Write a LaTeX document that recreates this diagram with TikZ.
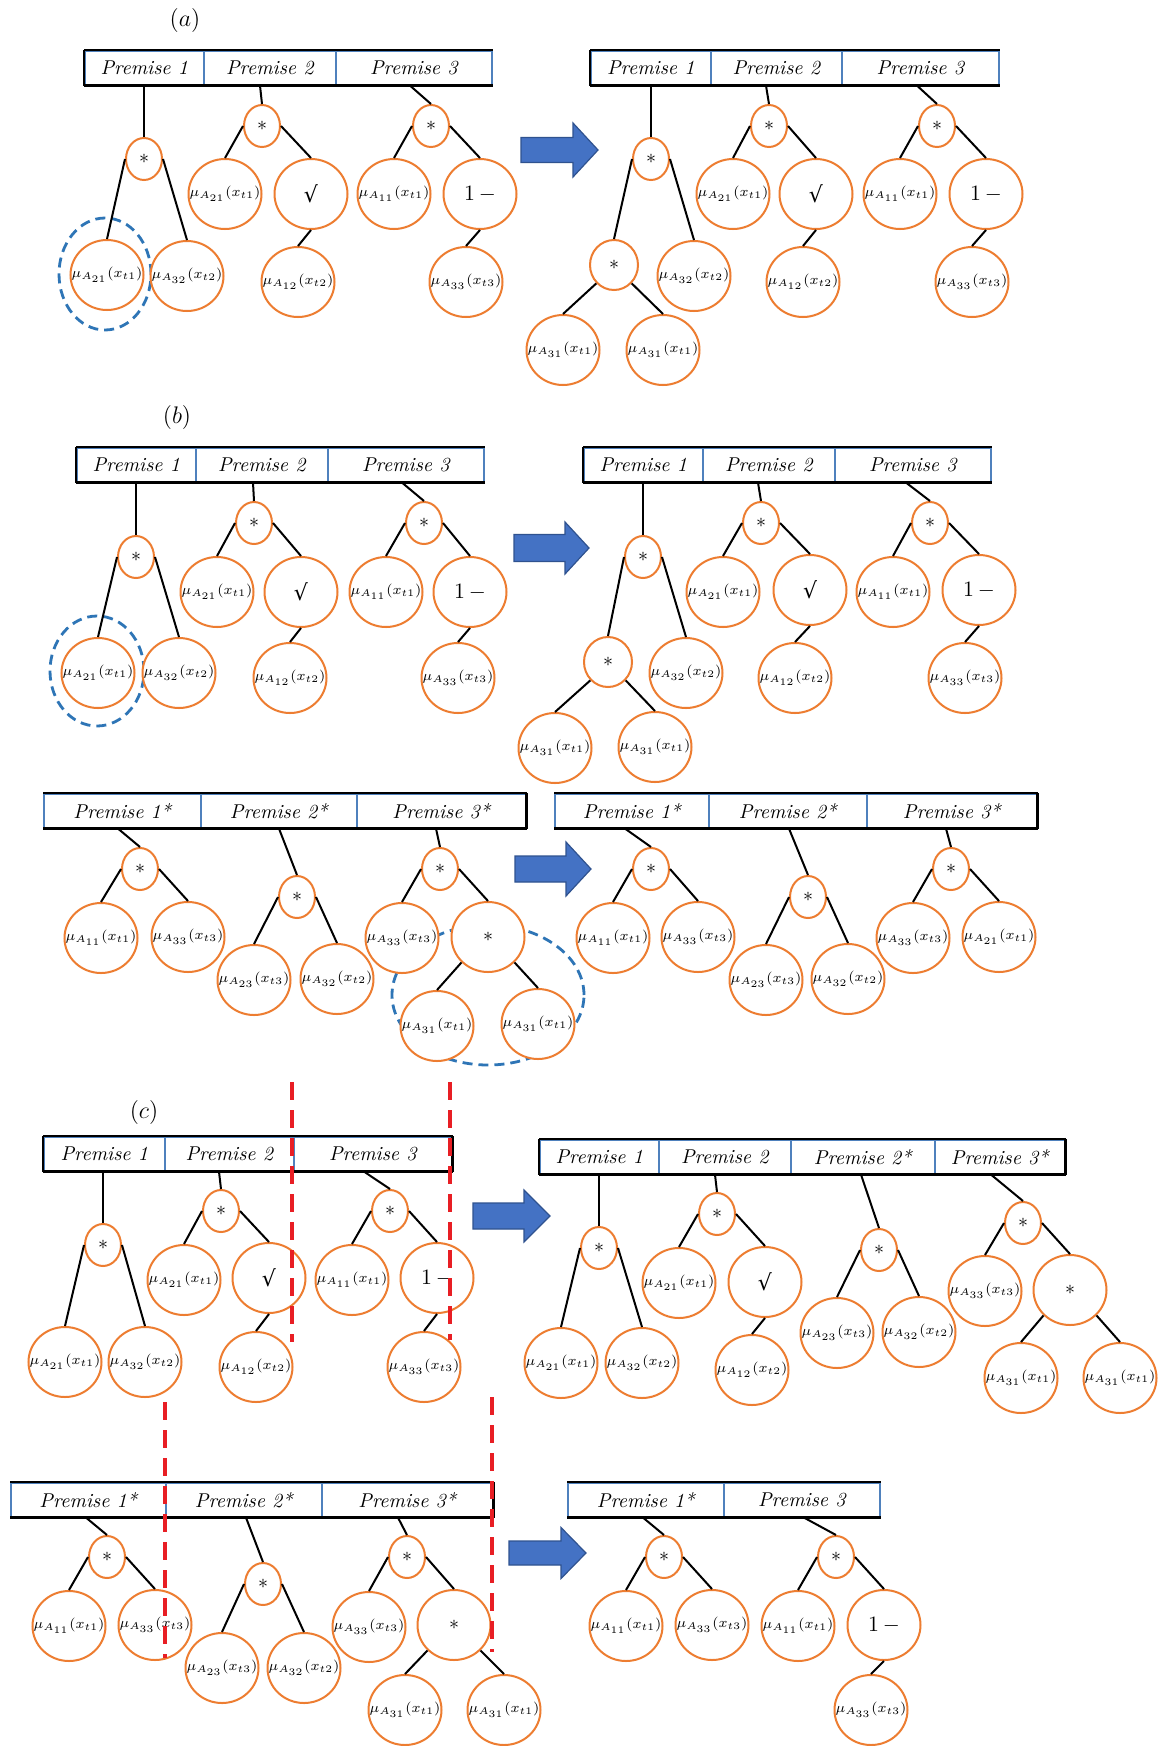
\documentclass[tikz,border=0pt]{standalone}
\usepackage{fontspec}
\newfontfamily\djv{DejaVu Serif}
\usetikzlibrary{shapes.geometric,calc}
\definecolor{orng}{RGB}{237,125,49}
\definecolor{cellblue}{RGB}{79,129,189}
\definecolor{dashblue}{RGB}{46,117,182}
\definecolor{arrowfill}{RGB}{68,114,196}
\definecolor{arrowedge}{RGB}{47,82,143}
\definecolor{redline}{RGB}{232,30,36}
\newcommand\mf[2]{\makebox[0pt]{$\mu_{A_{#1}}(x_{t#2})$}}
\newcommand\lnk[3]{\draw[conn] ($(#1.south west)+(#2,0)$) -- (#3.north);}
\newcommand\bigarrow[6]{\filldraw[bigarr] (#1,#4-#5) -- (#2,#4-#5) -- (#2,#4-#6) -- (#3,#4) -- (#2,#4+#6) -- (#2,#4+#5) -- (#1,#4+#5) -- cycle;}
\newcommand\barframe[2]{\draw[barline] (#1.north west) -- (#2.north east) (#1.south west) -- (#2.south east);}
\newcommand\ledge[1]{\draw[barline] (#1.north west) -- (#1.south west);}
\newcommand\redge[1]{\draw[barline] (#1.north east) -- (#1.south east);}
\newcommand\sq{{\djv √}}
\tikzset{
  leaf/.style={ellipse, draw=orng, line width=1pt, fill=white, inner sep=0pt,
    minimum width=36.5pt, minimum height=35pt, font=\fontsize{7.4}{9}\selectfont},
  opnode/.style={leaf, font=\fontsize{11}{12}\selectfont},
  starnode/.style={ellipse, draw=orng, line width=1pt, fill=white, inner sep=0pt,
    minimum width=18pt, minimum height=21pt, font=\fontsize{10}{11}\selectfont},
  midstar/.style={starnode, minimum width=24pt, minimum height=25pt},
  bigstar/.style={leaf, font=\fontsize{10}{11}\selectfont},
  cell/.style={draw=cellblue, line width=0.8pt, anchor=north west, inner sep=0pt,
    minimum width=#1*0.5pt, minimum height=17pt, font=\fontsize{10}{11}\selectfont\itshape},
  conn/.style={line width=1pt, black},
  barline/.style={line width=1.4pt, black},
  hl/.style={draw=dashblue, line width=1.4pt, dash pattern=on 5pt off 3pt},
  cutline/.style={draw=redline, line width=1.8pt, dash pattern=on 9pt off 5pt},
  bigarr/.style={fill=arrowfill, draw=arrowedge, line width=0.6pt},
  lab/.style={inner sep=0pt, font=\fontsize{12}{13}\selectfont},
}
\begin{document}
\begin{tikzpicture}[x=0.5pt, y=-0.5pt]
\fill[white] (0,0) rectangle (1161,1746);
\useasboundingbox (0,0) rectangle (1161,1746);
% highlight ellipses
\draw[hl] (105,274) ellipse [x radius=23pt, y radius=28pt];
\draw[hl] (97,671) ellipse [x radius=23.5pt, y radius=27.5pt];
\draw[hl] (488,995) ellipse [x radius=48pt, y radius=35pt];
% big arrows
\bigarrow{521}{573}{598}{150}{12.5}{27}
\bigarrow{514}{565}{589}{548}{13.5}{26}
\bigarrow{515}{566}{591}{869}{13}{27}
\bigarrow{473}{524}{550}{1216}{13}{26}
\bigarrow{509}{561}{586}{1553}{12}{25.5}

% ================= (a) left
\node[lab] (la) at (185,20) {$(a)$};
\node[cell=119] (a1) at (84,50) {Premise 1};
\node[cell=132] (a2) at (203,50) {Premise 2};
\node[cell=156] (a3) at (335,50) {Premise 3};
\barframe{a1}{a3}\ledge{a1}
\node[starnode] (as1) at (144,159) {$*$};
\node[leaf] (al1) at (107,275) {\mf{21}{1}};
\node[leaf] (al2) at (187,276) {\mf{32}{2}};
\node[starnode] (as2) at (262,126) {$*$};
\node[leaf] (al3) at (225,194) {\mf{21}{1}};
\node[opnode] (aq) at (311,194) {\sq};
\node[leaf] (al4) at (298,282) {\mf{12}{2}};
\node[starnode] (as3) at (431,126) {$*$};
\node[leaf] (al5) at (394,194) {\mf{11}{1}};
\node[opnode] (am) at (480,194) {$1\,-$};
\node[leaf] (al6) at (466,282) {\mf{33}{3}};
\lnk{a1}{60}{as1}\lnk{a2}{57}{as2}\lnk{a3}{75}{as3}
\draw[conn] (as1.west) -- (al1.north) (as1.east) -- (al2.north)
  (as2.west) -- (al3.north) (as2.east) -- (aq.north) (aq.south) -- (al4.north)
  (as3.west) -- (al5.north) (as3.east) -- (am.north) (am.south) -- (al6.north);

% ================= (a) right
\node[cell=120] (ar1) at (590,50) {Premise 1};
\node[cell=131] (ar2) at (710,50) {Premise 2};
\node[cell=157] (ar3) at (841,50) {Premise 3};
\barframe{ar1}{ar3}\ledge{ar1}
\node[starnode] (ars1) at (651,159) {$*$};
\node[midstar] (arm1) at (614,265) {$*$};
\node[leaf] (arl1) at (694,276) {\mf{32}{2}};
\node[leaf] (arl2) at (563,350) {\mf{31}{1}};
\node[leaf] (arl3) at (663,350) {\mf{31}{1}};
\node[starnode] (ars2) at (769,126) {$*$};
\node[leaf] (arl4) at (733,194) {\mf{21}{1}};
\node[opnode] (arq) at (816,194) {\sq};
\node[leaf] (arl5) at (803,282) {\mf{12}{2}};
\node[starnode] (ars3) at (937,126) {$*$};
\node[leaf] (arl6) at (900,194) {\mf{11}{1}};
\node[opnode] (arn) at (986,194) {$1\,-$};
\node[leaf] (arl7) at (972,282) {\mf{33}{3}};
\lnk{ar1}{61}{ars1}\lnk{ar2}{56}{ars2}\lnk{ar3}{76}{ars3}
\draw[conn] (ars1.west) -- (arm1.north) (ars1.east) -- (arl1.north)
  (arm1.south west) -- (arl2.north) (arm1.south east) -- (arl3.north)
  (ars2.west) -- (arl4.north) (ars2.east) -- (arq.north) (arq.south) -- (arl5.north)
  (ars3.west) -- (arl6.north) (ars3.east) -- (arn.north) (arn.south) -- (arl7.north);

% ================= (b) top left
\node[lab] (lb) at (177,417) {$(b)$};
\node[cell=119] (b1) at (76,447) {Premise 1};
\node[cell=132] (b2) at (195,447) {Premise 2};
\node[cell=156] (b3) at (327,447) {Premise 3};
\barframe{b1}{b3}\ledge{b1}
\node[starnode] (bs1) at (136,557) {$*$};
\node[leaf] (bl1) at (98,673) {\mf{21}{1}};
\node[leaf] (bl2) at (179,673) {\mf{32}{2}};
\node[starnode] (bs2) at (254,523) {$*$};
\node[leaf] (bl3) at (217,592) {\mf{21}{1}};
\node[opnode] (bq) at (301,592) {\sq};
\node[leaf] (bl4) at (290,678) {\mf{12}{2}};
\node[starnode] (bs3) at (424,523) {$*$};
\node[leaf] (bl5) at (386,592) {\mf{11}{1}};
\node[opnode] (bm) at (470,592) {$1\,-$};
\node[leaf] (bl6) at (458,678) {\mf{33}{3}};
\lnk{b1}{60}{bs1}\lnk{b2}{58}{bs2}\lnk{b3}{75}{bs3}
\draw[conn] (bs1.west) -- (bl1.north) (bs1.east) -- (bl2.north)
  (bs2.west) -- (bl3.north) (bs2.east) -- (bq.north) (bq.south) -- (bl4.north)
  (bs3.west) -- (bl5.north) (bs3.east) -- (bm.north) (bm.south) -- (bl6.north);

% ================= (b) top right
\node[cell=119] (br1) at (583,447) {Premise 1};
\node[cell=132] (br2) at (702,447) {Premise 2};
\node[cell=156] (br3) at (834,447) {Premise 3};
\barframe{br1}{br3}\ledge{br1}
\node[starnode] (brs1) at (643,557) {$*$};
\node[midstar] (brm1) at (608,662) {$*$};
\node[leaf] (brl1) at (686,673) {\mf{32}{2}};
\node[leaf] (brl2) at (555,748) {\mf{31}{1}};
\node[leaf] (brl3) at (655,747) {\mf{31}{1}};
\node[starnode] (brs2) at (761,523) {$*$};
\node[leaf] (brl4) at (723,592) {\mf{21}{1}};
\node[opnode] (brq) at (810,590) {\sq};
\node[leaf] (brl5) at (795,678) {\mf{12}{2}};
\node[starnode] (brs3) at (930,523) {$*$};
\node[leaf] (brl6) at (893,592) {\mf{11}{1}};
\node[opnode] (brn) at (979,590) {$1\,-$};
\node[leaf] (brl7) at (965,678) {\mf{33}{3}};
\lnk{br1}{60}{brs1}\lnk{br2}{56}{brs2}\lnk{br3}{72}{brs3}
\draw[conn] (brs1.west) -- (brm1.north) (brs1.east) -- (brl1.north)
  (brm1.south west) -- (brl2.north) (brm1.south east) -- (brl3.north)
  (brs2.west) -- (brl4.north) (brs2.east) -- (brq.north) (brq.south) -- (brl5.north)
  (brs3.west) -- (brl6.north) (brs3.east) -- (brn.north) (brn.south) -- (brl7.north);

% ================= (b) bottom left
\node[cell=157] (bb1) at (43,793) {Premise 1*};
\node[cell=156] (bb2) at (200,793) {Premise 2*};
\node[cell=169] (bb3) at (356,793) {Premise 3*};
\barframe{bb1}{bb3}\redge{bb3}
\node[starnode] (bbs1) at (140,869) {$*$};
\node[leaf] (bbl1) at (101,938) {\mf{11}{1}};
\node[leaf] (bbl2) at (188,937) {\mf{33}{3}};
\node[starnode] (bbs2) at (297,897) {$*$};
\node[leaf] (bbl3) at (254,980) {\mf{23}{3}};
\node[leaf] (bbl4) at (337,979) {\mf{32}{2}};
\node[starnode] (bbs3) at (440,869) {$*$};
\node[leaf] (bbl5) at (402,938) {\mf{33}{3}};
\node[bigstar] (bbm) at (488,937) {$*$};
\node[leaf] (bbl6) at (437,1026) {\mf{31}{1}};
\node[leaf] (bbl7) at (538,1024) {\mf{31}{1}};
\lnk{bb1}{75}{bbs1}\lnk{bb2}{79}{bbs2}\lnk{bb3}{80}{bbs3}
\draw[conn] (bbs1.west) -- (bbl1.north) (bbs1.east) -- (bbl2.north)
  (bbs2.west) -- (bbl3.north) (bbs2.east) -- (bbl4.north)
  (bbs3.west) -- (bbl5.north) (bbs3.east) -- (bbm.north)
  (bbm.south west) -- (bbl6.north) (bbm.south east) -- (bbl7.north);

% ================= (b) bottom right
\node[cell=154] (bc1) at (554,793) {Premise 1*};
\node[cell=158] (bc2) at (708,793) {Premise 2*};
\node[cell=170] (bc3) at (866,793) {Premise 3*};
\barframe{bc1}{bc3}\redge{bc3}
\node[starnode] (bcs1) at (651,869) {$*$};
\node[leaf] (bcl1) at (613,938) {\mf{11}{1}};
\node[leaf] (bcl2) at (698,937) {\mf{33}{3}};
\node[starnode] (bcs2) at (808,897) {$*$};
\node[leaf] (bcl3) at (766,980) {\mf{23}{3}};
\node[leaf] (bcl4) at (848,979) {\mf{32}{2}};
\node[starnode] (bcs3) at (951,869) {$*$};
\node[leaf] (bcl5) at (913,938) {\mf{33}{3}};
\node[leaf] (bcl6) at (999,937) {\mf{21}{1}};
\lnk{bc1}{71}{bcs1}\lnk{bc2}{81}{bcs2}\lnk{bc3}{80}{bcs3}
\draw[conn] (bcs1.west) -- (bcl1.north) (bcs1.east) -- (bcl2.north)
  (bcs2.west) -- (bcl3.north) (bcs2.east) -- (bcl4.north)
  (bcs3.west) -- (bcl5.north) (bcs3.east) -- (bcl6.north);

% ================= (c) top left
\node[lab] (lc) at (144,1112) {$(c)$};
\node[cell=121] (c1) at (43,1136) {Premise 1};
\node[cell=129] (c2) at (164,1136) {Premise 2};
\node[cell=158] (c3) at (293,1136) {Premise 3};
\barframe{c1}{c3}\ledge{c1}\redge{c3}
\node[starnode] (cs1) at (103,1245) {$*$};
\node[leaf] (cl1) at (65,1362) {\mf{21}{1}};
\node[leaf] (cl2) at (145,1362) {\mf{32}{2}};
\node[starnode] (cs2) at (221,1211) {$*$};
\node[leaf] (cl3) at (184,1280) {\mf{21}{1}};
\node[opnode] (cq) at (269,1278) {\sq};
\node[leaf] (cl4) at (256,1367) {\mf{12}{2}};
\node[starnode] (cs3) at (390,1211) {$*$};
\node[leaf] (cl5) at (352,1280) {\mf{11}{1}};
\node[opnode] (cm) at (437,1278) {$1\,-$};
\node[leaf] (cl6) at (424,1367) {\mf{33}{3}};
\lnk{c1}{60}{cs1}\lnk{c2}{55}{cs2}\lnk{c3}{71}{cs3}
\draw[conn] (cs1.west) -- (cl1.north) (cs1.east) -- (cl2.north)
  (cs2.west) -- (cl3.north) (cs2.east) -- (cq.north) (cq.south) -- (cl4.north)
  (cs3.west) -- (cl5.north) (cs3.east) -- (cm.north) (cm.south) -- (cl6.north);

% ================= (c) top right
\node[cell=119] (cr1) at (539,1139) {Premise 1};
\node[cell=132] (cr2) at (658,1139) {Premise 2};
\node[cell=144] (cr3) at (790,1139) {Premise 2*};
\node[cell=130] (cr4) at (934,1139) {Premise 3*};
\barframe{cr1}{cr4}\ledge{cr1}\redge{cr4}
\node[starnode] (crs1) at (599,1248) {$*$};
\node[leaf] (crl1) at (561,1363) {\mf{21}{1}};
\node[leaf] (crl2) at (642,1363) {\mf{32}{2}};
\node[starnode] (crs2) at (717,1214) {$*$};
\node[leaf] (crl3) at (679,1283) {\mf{21}{1}};
\node[opnode] (crq) at (765,1282) {\sq};
\node[leaf] (crl4) at (752,1370) {\mf{12}{2}};
\node[starnode] (crs3) at (879,1250) {$*$};
\node[leaf] (crl5) at (837,1333) {\mf{23}{3}};
\node[leaf] (crl6) at (919,1332) {\mf{32}{2}};
\node[starnode] (crs4) at (1023,1223) {$*$};
\node[leaf] (crl7) at (985,1291) {\mf{33}{3}};
\node[bigstar] (crm) at (1070,1290) {$*$};
\node[leaf] (crl8) at (1021,1378) {\mf{31}{1}};
\node[leaf] (crl9) at (1120,1378) {\mf{31}{1}};
\lnk{cr1}{60}{crs1}\lnk{cr2}{57}{crs2}\lnk{cr3}{71}{crs3}\lnk{cr4}{57}{crs4}
\draw[conn] (crs1.west) -- (crl1.north) (crs1.east) -- (crl2.north)
  (crs2.west) -- (crl3.north) (crs2.east) -- (crq.north) (crq.south) -- (crl4.north)
  (crs3.west) -- (crl5.north) (crs3.east) -- (crl6.north)
  (crs4.west) -- (crl7.north) (crs4.east) -- (crm.north)
  (crm.south west) -- (crl8.north) (crm.south east) -- (crl9.north);

% ================= (c) bottom left
\node[cell=155] (cb1) at (10,1482) {Premise 1*};
\node[cell=156] (cb2) at (165,1482) {Premise 2*};
\node[cell=171] (cb3) at (321,1482) {Premise 3*};
\barframe{cb1}{cb3}\redge{cb3}
\node[starnode] (cbs1) at (107,1557) {$*$};
\node[leaf] (cbl1) at (69,1626) {\mf{11}{1}};
\node[leaf] (cbl2) at (155,1625) {\mf{33}{3}};
\node[starnode] (cbs2) at (263,1584) {$*$};
\node[leaf] (cbl3) at (222,1668) {\mf{23}{3}};
\node[leaf] (cbl4) at (304,1668) {\mf{32}{2}};
\node[starnode] (cbs3) at (407,1557) {$*$};
\node[leaf] (cbl5) at (369,1627) {\mf{33}{3}};
\node[bigstar] (cbm) at (454,1625) {$*$};
\node[leaf] (cbl6) at (405,1710) {\mf{31}{1}};
\node[leaf] (cbl7) at (504,1710) {\mf{31}{1}};
\lnk{cb1}{76}{cbs1}\lnk{cb2}{81}{cbs2}\lnk{cb3}{77}{cbs3}
\draw[conn] (cbs1.west) -- (cbl1.north) (cbs1.east) -- (cbl2.north)
  (cbs2.west) -- (cbl3.north) (cbs2.east) -- (cbl4.north)
  (cbs3.west) -- (cbl5.north) (cbs3.east) -- (cbm.north)
  (cbm.south west) -- (cbl6.north) (cbm.south east) -- (cbl7.north);

% ================= (c) bottom right
\node[cell=156] (cc1) at (567,1482) {Premise 1*};
\node[cell=156] (cc2) at (723,1482) {Premise 3};
\barframe{cc1}{cc2}
\node[starnode] (ccs1) at (664,1557) {$*$};
\node[leaf] (ccl1) at (626,1626) {\mf{11}{1}};
\node[leaf] (ccl2) at (712,1625) {\mf{33}{3}};
\node[starnode] (ccs2) at (836,1557) {$*$};
\node[leaf] (ccl3) at (798,1626) {\mf{11}{1}};
\node[opnode] (ccn) at (884,1625) {$1\,-$};
\node[leaf] (ccl4) at (871,1710) {\mf{33}{3}};
\lnk{cc1}{76}{ccs1}\lnk{cc2}{81}{ccs2}
\draw[conn] (ccs1.west) -- (ccl1.north) (ccs1.east) -- (ccl2.north)
  (ccs2.west) -- (ccl3.north) (ccs2.east) -- (ccn.north) (ccn.south) -- (ccl4.north);

% red cut lines
\draw[cutline] (292,1082) -- (292,1342);
\draw[cutline] (450,1082) -- (450,1340);
\draw[cutline] (165,1402) -- (165,1658);
\draw[cutline] (492,1397) -- (492,1652);
\end{tikzpicture}
\end{document}
